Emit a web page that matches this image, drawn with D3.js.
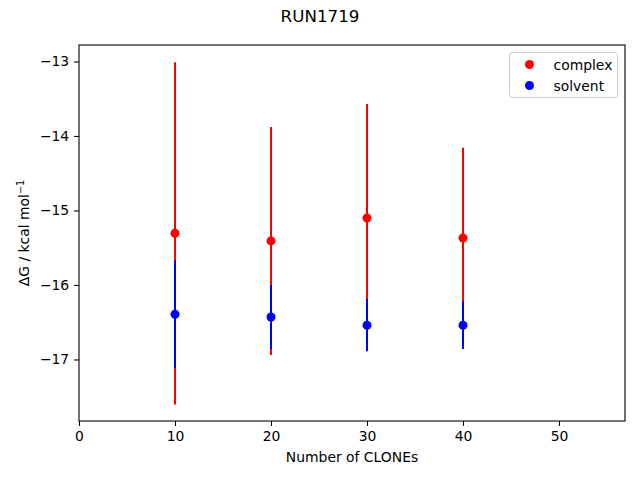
<!DOCTYPE html>
<html><head><meta charset="utf-8">
<script src="https://cdn.jsdelivr.net/npm/d3@7"></script>
<style>body{margin:0;background:#fff}text{font-family:"DejaVu Sans",sans-serif}</style>
</head><body><svg id="c" width="640" height="480"></svg>
<script>
const clones = [10, 20, 30, 40];
const complexMean = [-15.306, -15.409, -15.101, -15.369];
const complexErr = [2.297, 1.53, 1.53, 1.21];
const solventMean = [-16.393, -16.43, -16.54, -16.54];
const solventErr = [0.72, 0.43, 0.35, 0.32];
const xTicks = [0, 10, 20, 30, 40, 50];
const yTicks = [-13, -14, -15, -16, -17];
const title = "RUN1719";

const svg = d3.select("#c");
const L = 79, R = 625, T = 45, B = 421;
const x = d3.scaleLinear().domain([0, 56.875]).range([L, R]);
const y = d3.scaleLinear().domain([-17.826, -12.779]).range([B, T]);

const fmt = d => (d < 0 ? "\u2212" + Math.abs(d) : String(d));
const xAxis = svg.append("g").attr("transform", `translate(0,${B})`)
  .call(d3.axisBottom(x).tickValues(xTicks).tickFormat(fmt).tickSize(4.9).tickPadding(4.9));
const yAxis = svg.append("g").attr("transform", `translate(${L},0)`)
  .call(d3.axisLeft(y).tickValues(yTicks).tickFormat(fmt).tickSize(4.9).tickPadding(4.9));
[xAxis, yAxis].forEach(a => {
  a.select(".domain").remove();
  a.selectAll("text").attr("font-size", "13.9px").attr("fill", "#000").attr("font-family", "DejaVu Sans");
  a.selectAll("line").attr("stroke", "#000").attr("stroke-width", 1.1);
});
svg.append("rect").attr("x", L).attr("y", T).attr("width", R - L).attr("height", B - T)
  .attr("fill", "none").attr("stroke", "#000").attr("stroke-width", 1.1);

function series(means, errs, color) {
  svg.append("g").selectAll("line").data(clones).join("line")
    .attr("x1", d => x(d)).attr("x2", d => x(d))
    .attr("y1", (d, i) => y(means[i] - errs[i])).attr("y2", (d, i) => y(means[i] + errs[i]))
    .attr("stroke", color).attr("stroke-width", 2);
  svg.append("g").selectAll("circle").data(clones).join("circle")
    .attr("cx", d => x(d)).attr("cy", (d, i) => y(means[i])).attr("r", 4.5).attr("fill", color);
}
series(complexMean, complexErr, "#ff0000");
series(solventMean, solventErr, "#0000ff");

svg.append("text").attr("x", 320).attr("y", 22).attr("text-anchor", "middle")
  .attr("font-size", "16.7px").text(title);
svg.append("text").attr("x", (L + R) / 2).attr("y", 462).attr("text-anchor", "middle")
  .attr("font-size", "13.9px").text("Number of CLONEs");
const yl = svg.append("text").attr("transform", `translate(29,${(T + B) / 2}) rotate(-90)`)
  .attr("text-anchor", "middle").attr("font-size", "13.9px");
yl.append("tspan").text("\u0394G / kcal mol");
yl.append("tspan").attr("dy", -5).attr("font-size", "9.7px").text("\u22121");

const lg = svg.append("g");
lg.append("rect").attr("x", 509.5).attr("y", 52.5).attr("width", 108).attr("height", 45)
  .attr("rx", 3).attr("fill", "#fff").attr("fill-opacity", 0.8).attr("stroke", "#ccc");
[["complex", "#ff0000"], ["solvent", "#0000ff"]].forEach((e, i) => {
  lg.append("circle").attr("cx", 529.5).attr("cy", 64.5 + i * 21).attr("r", 4.5).attr("fill", e[1]);
  lg.append("text").attr("x", 553.5).attr("y", 69.5 + i * 21).attr("font-size", "13.9px").text(e[0]);
});
</script></body></html>
